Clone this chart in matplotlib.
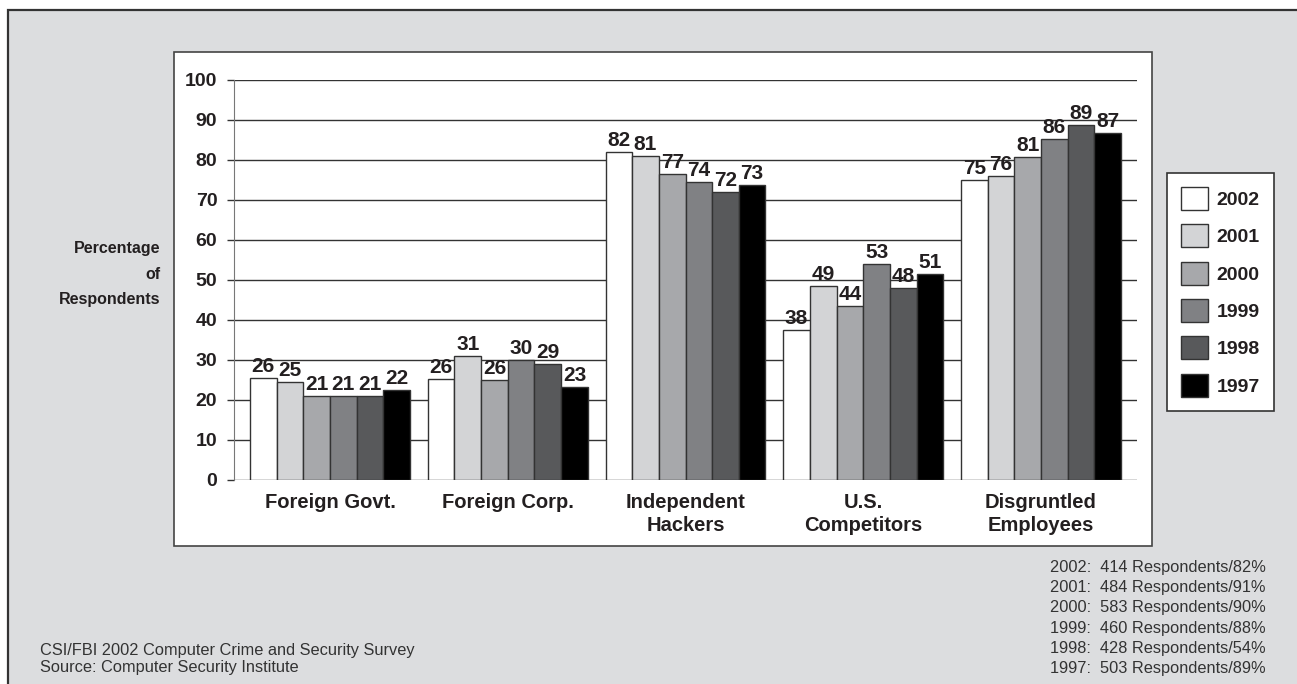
import numpy as np
import matplotlib
matplotlib.use("Agg")
import matplotlib.pyplot as plt
from matplotlib.patches import Rectangle, Patch

plt.rcParams['font.family'] = ['Liberation Sans', 'DejaVu Sans']

# data
categories = ["Foreign Govt.", "Foreign Corp.", "Independent\nHackers",
              "U.S.\nCompetitors", "Disgruntled\nEmployees"]
years = ["2002", "2001", "2000", "1999", "1998", "1997"]
heights = {
    "2002": [25.5, 25.2, 82.0, 37.5, 75.0],
    "2001": [24.5, 31.0, 81.0, 48.5, 76.0],
    "2000": [21.0, 25.0, 76.5, 43.5, 80.8],
    "1999": [21.0, 30.0, 74.5, 54.0, 85.2],
    "1998": [21.0, 29.0, 72.0, 48.0, 88.7],
    "1997": [22.6, 23.2, 73.7, 51.5, 86.8],
}
labels = {
    "2002": [26, 26, 82, 38, 75],
    "2001": [25, 31, 81, 49, 76],
    "2000": [21, 26, 77, 44, 81],
    "1999": [21, 30, 74, 53, 86],
    "1998": [21, 29, 72, 48, 89],
    "1997": [22, 23, 73, 51, 87],
}
colors = ["#ffffff", "#d3d4d6", "#a7a8ab", "#808184", "#58595b", "#000000"]
respondents = [("2002", 414, 82), ("2001", 484, 91), ("2000", 583, 90),
               ("1999", 460, 88), ("1998", 428, 54), ("1997", 503, 89)]

W, H = 1297, 684
fig = plt.figure(figsize=(W / 100, H / 100), dpi=100)
fig.patch.set_facecolor("white")

# gray outer panel
fig.patches.append(Rectangle((8 / W, -0.1), 1.2, 1 - 10 / H + 0.1, transform=fig.transFigure,
                             facecolor="#dcdddf", edgecolor="#333333", lw=1.6, zorder=-3))
# white chart box
fig.patches.append(Rectangle((174 / W, 1 - 546 / H), (1152 - 174) / W, (546 - 52) / H,
                             transform=fig.transFigure, facecolor="white",
                             edgecolor="#444444", lw=1.2, zorder=-2))

ax = fig.add_axes([234 / W, 1 - 480 / H, (1137 - 234) / W, 400 / H])
ax.set_facecolor("none")

x = np.arange(len(categories))
bw = 0.15
for i, (yr, c) in enumerate(zip(years, colors)):
    pos = x + (i - 2.5) * bw
    bars = ax.bar(pos, heights[yr], width=bw, color=c, edgecolor="#333333", lw=1.0, zorder=3)
    ax.bar_label(bars, labels=[str(v) for v in labels[yr]], padding=1.5,
                 fontsize=15, fontweight="bold", color="#231f20")

ax.set_xlim(-0.54, 4.54)
ax.set_ylim(0, 100)
ax.set_yticks(np.arange(0, 101, 10))
ax.yaxis.grid(True, color="#333333", lw=1.0)
ax.set_axisbelow(True)
for s in ["top", "right", "bottom"]:
    ax.spines[s].set_visible(False)
ax.spines["left"].set_color("#777777")
ax.tick_params(axis="y", length=5, width=1.0, color="#333333", pad=7,
               labelsize=14)
ax.tick_params(axis="x", length=0, pad=9, labelsize=14.5)
ax.set_xticks(x)
ax.set_xticklabels(categories, fontweight="bold", color="#231f20", linespacing=1.3)
for t in ax.get_yticklabels():
    t.set_fontweight("bold")
    t.set_color("#231f20")

fig.text(160 / W, 1 - 274 / H, "Percentage\nof\nRespondents", ha="right", va="center",
         fontsize=11.5, fontweight="bold", color="#231f20", linespacing=1.85)

handles = [Patch(facecolor=c, edgecolor="#333333", lw=1.0) for c in colors]
leg = fig.legend(handles, years, loc="upper left", bbox_to_anchor=(1167 / W, 1 - 173 / H),
                 frameon=True, fancybox=False, edgecolor="#333333", facecolor="white",
                 framealpha=1, prop={"size": 14, "weight": "bold"}, handlelength=1.39,
                 handleheight=1.44, labelspacing=0.74, handletextpad=0.45, borderpad=0.72,
                 borderaxespad=0)
leg.get_frame().set_linewidth(1.2)
for t in leg.get_texts():
    t.set_color("#231f20")

fig.text(40 / W, 1 - 659 / H, "CSI/FBI 2002 Computer Crime and Security Survey\nSource: Computer Security Institute",
         ha="left", va="center", fontsize=11.8, color="#333333", linespacing=1.2)

foot = "\n".join("%s:  %d Respondents/%d%%" % r for r in respondents)
fig.text(1266 / W, 1 - 618 / H, foot, ha="right", va="center", fontsize=11.8,
         color="#333333", linespacing=1.43)

fig.savefig("out.png", dpi=100)
